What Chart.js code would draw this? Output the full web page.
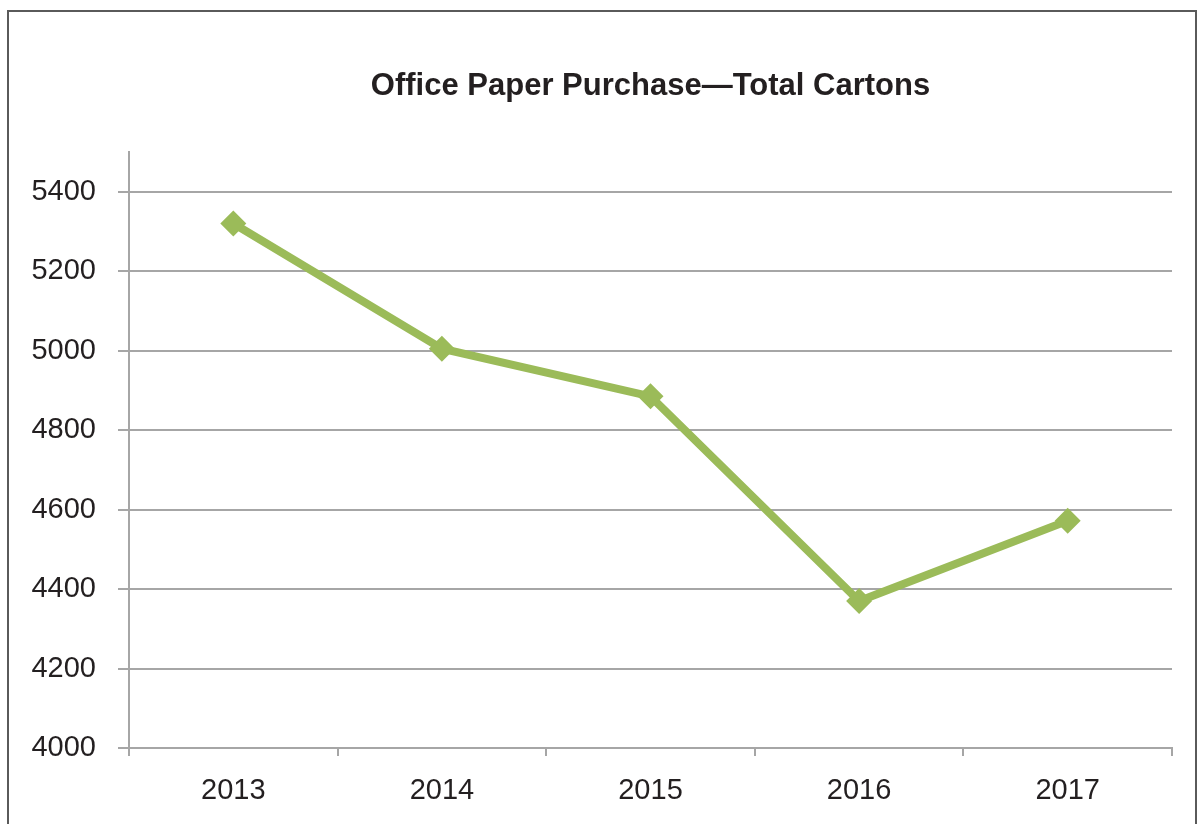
<!DOCTYPE html>
<html>
<head>
<meta charset="utf-8">
<script src="https://cdn.jsdelivr.net/npm/chart.js@4/dist/chart.umd.min.js"></script>
<style>
	html, body { margin: 0; padding: 0; background: #fff; overflow: hidden; }
	#wrap { position: relative; width: 1199px; height: 824px; }
	#frame { position: absolute; left: 7px; top: 10px; width: 1186px; height: 900px; border: 2px solid #5a5a5a; }
	#chart { position: absolute; left: 0; top: 0; }
</style>
</head>
<body>
<div id="wrap">
	<div id="frame"></div>
	<canvas id="chart" width="1199" height="824"></canvas>
</div>
<script>
/* data */
const chartTitle = 'Office Paper Purchase\u2014Total Cartons';
const years = ['2013', '2014', '2015', '2016', '2017'];
const cartons = [5320, 5005, 4885, 4370, 4572];
const yTicks = [4000, 4200, 4400, 4600, 4800, 5000, 5200, 5400];

const fontFamily = '"Liberation Sans", Arial, sans-serif';
const gridColor = '#a6a6a6';
const textColor = '#231f20';

/* title centred over the plot area */
const plotTitle = {
	id: 'plotTitle',
	afterDraw(chart) {
		const { ctx, chartArea } = chart;
		ctx.save();
		ctx.font = `bold 31px ${fontFamily}`;
		ctx.fillStyle = textColor;
		ctx.textAlign = 'center';
		ctx.textBaseline = 'middle';
		ctx.fillText(chartTitle, (chartArea.left + chartArea.right) / 2, 86);
		ctx.restore();
	},
};

new Chart(document.getElementById('chart'), {
	type: 'line',
	data: {
		labels: years,
		datasets: [{
			data: cartons,
			borderColor: '#9bbb59',
			backgroundColor: '#9bbb59',
			borderWidth: 8,
			tension: 0,
			pointStyle: 'rectRot',
			pointRadius: 13,
			pointBorderWidth: 0,
			pointBackgroundColor: '#9bbb59',
		}],
	},
	options: {
		responsive: false,
		animation: false,
		events: [],
		layout: {
			padding: { left: 0, top: 152, right: 27, bottom: 0 },
		},
		plugins: {
			legend: { display: false },
			tooltip: { enabled: false },
			title: { display: false },
		},
		scales: {
			x: {
				offset: true,
				grid: {
					offset: true,
					drawOnChartArea: false,
					drawTicks: true,
					tickLength: 8,
					color: gridColor,
					lineWidth: 2,
				},
				border: { display: true, color: gridColor, width: 2 },
				ticks: {
					color: textColor,
					font: { family: fontFamily, size: 29 },
					padding: 18,
					maxRotation: 0,
				},
				afterFit: (scale) => { scale.height = 76; },
			},
			y: {
				min: 4000,
				max: 5500,
				afterBuildTicks: (scale) => {
					scale.ticks = yTicks.map(value => ({ value }));
				},
				grid: {
					color: gridColor,
					lineWidth: 2,
					tickLength: 11,
				},
				border: { display: true, color: gridColor, width: 2 },
				ticks: {
					color: textColor,
					font: { family: fontFamily, size: 29 },
					padding: 22,
					callback: (value) => String(value),
				},
				afterFit: (scale) => { scale.width = 129; },
			},
		},
	},
	plugins: [plotTitle],
});
</script>
</body>
</html>
